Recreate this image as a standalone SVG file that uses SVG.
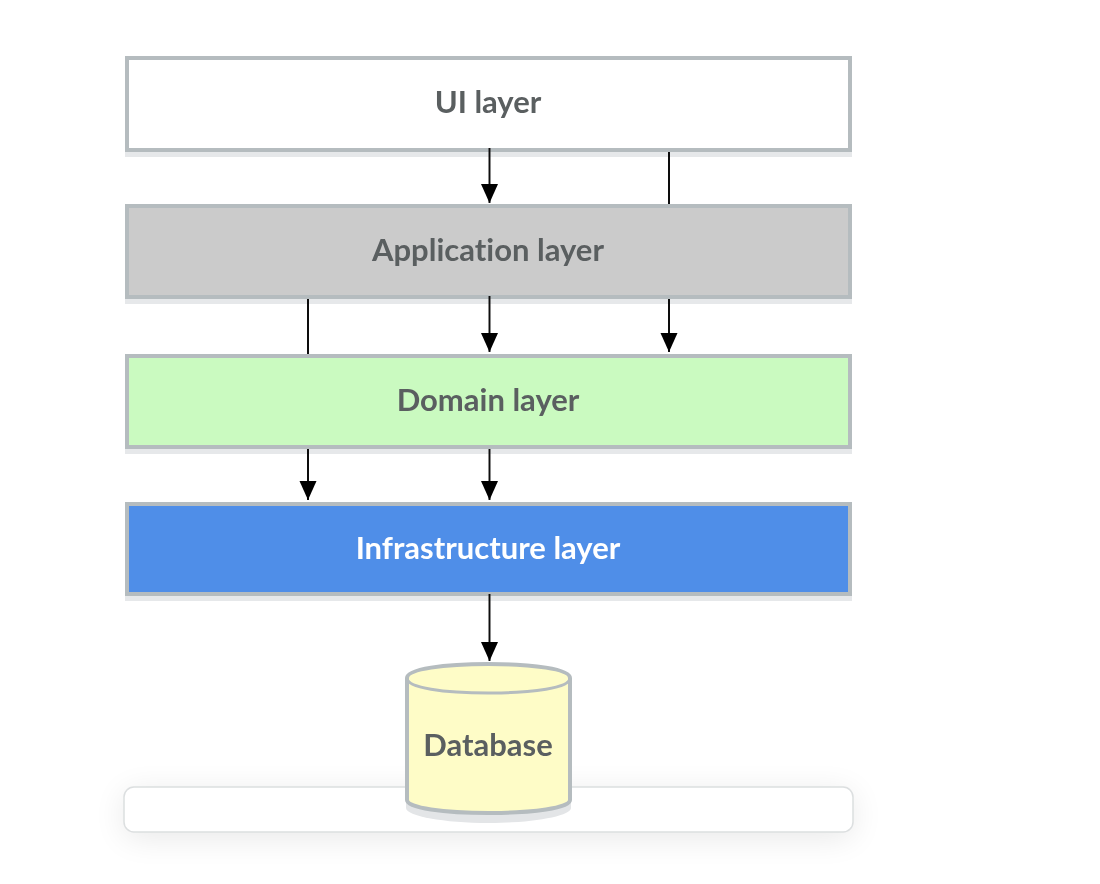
<svg xmlns="http://www.w3.org/2000/svg" width="1100" height="884" viewBox="0 0 1100 884">
<style>
.layer{stroke:#b5bcbf;stroke-width:4}
.shade{fill:#e6e8ea}
text{font-family:"Lato","Liberation Sans",sans-serif;font-weight:700;font-size:31px;fill:#5a5e60;text-anchor:middle;font-variant-ligatures:none}
.conn{stroke:#111;stroke-width:2;fill:none}
</style>
<defs>
<marker id="arrow" markerUnits="userSpaceOnUse" markerWidth="20" markerHeight="18" refX="19" refY="9" orient="auto" viewBox="0 0 20 18"><path d="M0 0.500V17.500L19 9Z" fill="#000"/></marker>
<filter id="soft" x="-10%" y="-150%" width="120%" height="400%"><feGaussianBlur stdDeviation="16"/></filter>
<filter id="blur" x="-5%" y="-5%" width="110%" height="110%"><feGaussianBlur stdDeviation="0.7"/></filter>
</defs>
<rect width="1100" height="884" fill="#fff"/>
<g id="panel">
<rect x="124" y="792" width="729" height="46" rx="10" fill="#000" opacity="0.09" filter="url(#soft)"/>
<rect x="124" y="787" width="729" height="45" rx="10" fill="#fff" stroke="#dcdfe0" stroke-width="1.500"/>
</g>
<g id="ui-layer" filter="url(#blur)">
<rect class="shade" x="125" y="150" width="727" height="7"/>
<rect class="layer" x="127" y="58" width="723" height="92" fill="#fff"/>
<text x="488" y="113">UI layer</text>
</g>
<g id="application-layer" filter="url(#blur)">
<rect class="shade" x="125" y="297" width="727" height="7"/>
<rect class="layer" x="127" y="206" width="723" height="91" fill="#cbcbcb"/>
<text x="488" y="261">Application layer</text>
</g>
<g id="domain-layer" filter="url(#blur)">
<rect class="shade" x="125" y="447" width="727" height="7"/>
<rect class="layer" x="127" y="356" width="723" height="91" fill="#cafac0"/>
<text x="488" y="411">Domain layer</text>
</g>
<g id="infrastructure-layer" filter="url(#blur)">
<rect class="shade" x="125" y="594" width="727" height="7"/>
<rect class="layer" x="127" y="504" width="723" height="90" fill="#4f8ee8"/>
<text x="488" y="559" style="fill:#fff">Infrastructure layer</text>
</g>
<g id="database" filter="url(#blur)">
<path d="M406 800V808C406 816 444 823 488.500 823S571 816 571 808V800Z" fill="#e3e5e7"/>
<path class="layer" d="M407 678C407 669 444 664 488.500 664S570 669 570 678V800C570 808 533 813 488.500 813S407 808 407 800Z" fill="#fefcc7"/>
<path class="layer" d="M407 678C407 688 444 693 488.500 693S570 688 570 678" fill="none" style="stroke-width:3"/>
<text x="488" y="756">Database</text>
</g>
<g id="connectors" filter="url(#blur)">
<path class="conn" d="M489.500 148V203" marker-end="url(#arrow)"/>
<path class="conn" d="M669 152V204"/>
<path class="conn" d="M308 299V354"/>
<path class="conn" d="M489.500 296V352" marker-end="url(#arrow)"/>
<path class="conn" d="M669 299V352" marker-end="url(#arrow)"/>
<path class="conn" d="M308 449V500" marker-end="url(#arrow)"/>
<path class="conn" d="M489.500 449V500" marker-end="url(#arrow)"/>
<path class="conn" d="M489.500 594V661" marker-end="url(#arrow)"/>
</g>
</svg>
